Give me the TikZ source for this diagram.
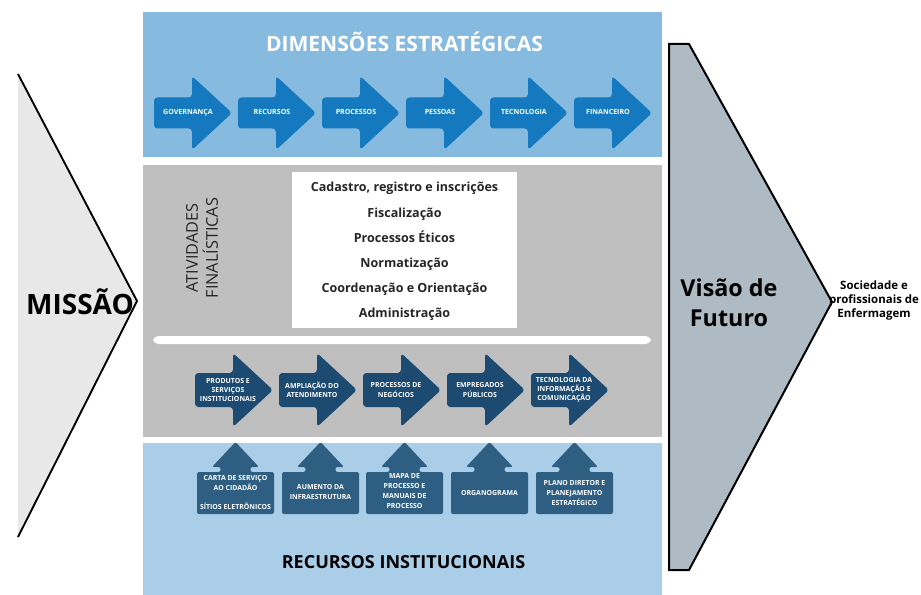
\documentclass[tikz,border=0pt]{standalone}
\usepackage{fontspec}
\setmainfont{Open Sans}
\definecolor{topPanel}{HTML}{86BADF}
\definecolor{topArrow}{HTML}{1479BE}
\definecolor{midPanel}{HTML}{BFBFBF}
\definecolor{midArrow}{HTML}{1C4A71}
\definecolor{botPanel}{HTML}{AACEE8}
\definecolor{botArrow}{HTML}{2E5F83}
\definecolor{missaoFill}{HTML}{E8E8E8}
\definecolor{visaoFill}{HTML}{AEBBC4}
\tikzset{
  toplbl/.style={text=white, font=\fontsize{5.3}{6.5}\selectfont\bfseries, align=center, inner sep=0pt, anchor=base},
  midlbl/.style={text=white, font=\fontsize{5.2}{6.8}\selectfont\bfseries, align=center, inner sep=0pt},
  botlbl/.style={text=white, font=\fontsize{5.2}{7.5}\selectfont\bfseries, align=center, inner sep=0pt},
  listtxt/.style={text=black!85, font=\fontsize{9.4}{11}\selectfont\bfseries, inner sep=0pt, anchor=base},
  bigtxt/.style={text=black, font=\fontsize{17.5}{22.5}\selectfont\bfseries, align=center, inner sep=0pt},
}
\newcommand\rarrowshape[4]{%
  \fill[#4, rounded corners=2.5pt] (#1,#2-#3) -- (#1+38,#2-#3) -- (#1+38,#2-37) -- (#1+78,#2)
    -- (#1+38,#2+37) -- (#1+38,#2+#3) -- (#1,#2+#3) -- cycle;}
\newcommand\uarrowshape[2]{%
  \fill[#2, rounded corners=1.5pt] (#1,472) -- (#1+23.5,472) -- (#1+23.5,467) -- (#1+15,467)
    -- (#1+38.5,442) -- (#1+62,467) -- (#1+53.5,467) -- (#1+53.5,472) -- (#1+77,472)
    -- (#1+77,514) -- (#1,514) -- cycle;}
\begin{document}
\begin{tikzpicture}[x=0.75pt,y=-0.75pt]
\useasboundingbox (0,0) rectangle (921,595);
\fill[white] (0,0) rectangle (921,595);

% Missao chevron
\fill[missaoFill] (18,74) -- (137,301) -- (18,537) -- cycle;
\draw[black, line width=1.4pt, line join=miter] (18,74) -- (137,301) -- (18,537);
\node[text=black, font=\fontsize{21}{24}\selectfont\bfseries, inner sep=0pt] (missao) at (80,302) {MISSÃO};

% panels
\fill[topPanel] (143,12) rectangle (662,157);
\fill[midPanel] (143,165) rectangle (662,437);
\fill[botPanel] (143,443) rectangle (662,595);

\node[text=white, font=\fontsize{15.8}{18}\selectfont\bfseries, inner sep=0pt] (dimtitle) at (404.5,42) {DIMENSÕES ESTRATÉGICAS};

% top arrows
\foreach \x/\t [count=\i] in {154/GOVERNANÇA, 238/RECURSOS, 322/PROCESSOS, 406/PESSOAS, 490/TECNOLOGIA, 574/FINANCEIRO}{
  \rarrowshape{\x}{113}{15.5}{topArrow}
  \node[toplbl] (d\i) at (\x+34,115) {\t};
}

% atividades
\node[rotate=90, text=black!85, font=\fontsize{12.2}{15}\selectfont, align=center, inner sep=0pt] (ativ) at (202,248) {ATIVIDADES\\FINALÍSTICAS};
\fill[white] (292,172) rectangle (517,328);
\foreach \t [count=\i] in {{Cadastro, registro e inscrições}, Fiscalização, Processos Éticos, Normatização, Coordenação e Orientação, Administração}{
  \node[listtxt] (l\i) at (404.5,192+25.2*\i-25.2) {\t};
}
\fill[white, rounded corners=4pt] (153,336) rectangle (651,344);

% middle arrows
\foreach \x/\t [count=\i] in {195/{PRODUTOS E\\SERVIÇOS\\INSTITUCIONAIS}, 279/{AMPLIAÇÃO DO\\ATENDIMENTO}, 363/{PROCESSOS DE\\NEGÓCIOS}, 447/{EMPREGADOS\\PÚBLICOS}, 531/{TECNOLOGIA DA\\INFORMAÇÃO E\\COMUNICAÇÃO}}{
  \rarrowshape{\x}{390}{17}{midArrow}
  \node[midlbl] (m\i) at (\x+33,390) {\t};
}

% bottom up arrows
\foreach \x/\t/\yy [count=\i] in {197/{CARTA DE SERVIÇO\\AO CIDADÃO\\[6.75pt]SÍTIOS ELETRÔNICOS}/492.5, 282/{AUMENTO DA\\INFRAESTRUTURA}/492.5, 366/{MAPA DE\\PROCESSO E\\MANUAIS DE\\PROCESSO}/491.5, 451/{ORGANOGRAMA}/493, 536/{PLANO DIRETOR E\\PLANEJAMENTO\\ESTRATÉGICO}/493}{
  \uarrowshape{\x}{botArrow}
  \node[botlbl] (b\i) at (\x+38.5,\yy) {\t};
}

\node[text=black, font=\fontsize{13.5}{16}\selectfont\bfseries, inner sep=0pt] (rectitle) at (403.5,562) {RECURSOS INSTITUCIONAIS};

% Visao chevron
\filldraw[fill=visaoFill, draw=black, line width=1.5pt, line join=miter] (669,44) -- (689,44) -- (832,302) -- (689,570) -- (669,570) -- cycle;
\node[bigtxt] (visao) at (729,303) {Visão de\\Futuro};

\node[text=black, font=\fontsize{8.6}{10.5}\selectfont\bfseries, align=center, inner sep=0pt] (soc) at (874,301) {Sociedade e\\profissionais de\\Enfermagem};
\end{tikzpicture}
\end{document}
